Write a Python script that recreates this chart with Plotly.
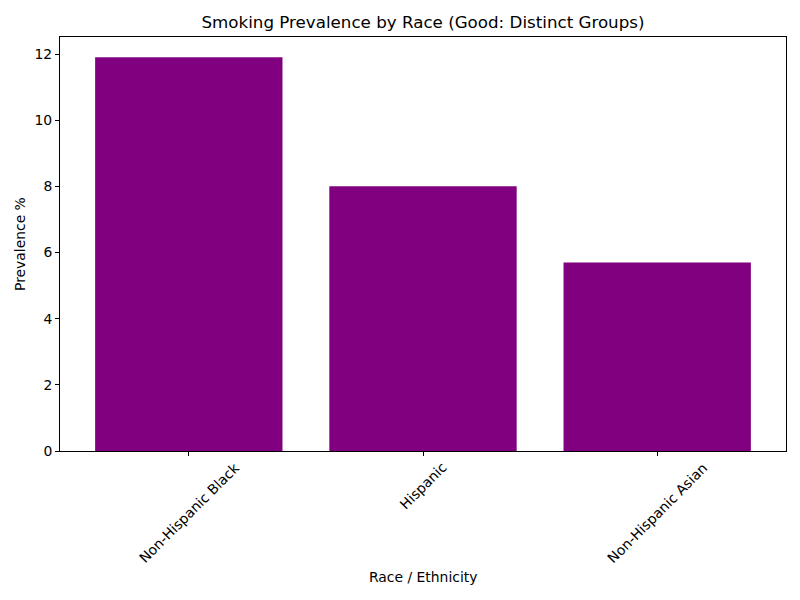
import plotly.graph_objects as go

# data
groups = ["Non-Hispanic Black", "Hispanic", "Non-Hispanic Asian"]
prevalence = [11.9, 8.0, 5.7]
positions = list(range(len(groups)))

fig = go.Figure()
fig.add_trace(
    go.Bar(
        x=positions,
        y=prevalence,
        width=0.8,
        marker=dict(color="purple", line=dict(width=0)),
    )
)

axis_style = dict(
    showline=True, linecolor="black", linewidth=1, mirror=True,
    ticks="outside", ticklen=4, tickcolor="black", showgrid=False,
    zeroline=False, tickfont=dict(size=13.9, color="black"),
)

# rotated category labels, centred under their ticks like matplotlib does
for p, g in zip(positions, groups):
    fig.add_annotation(x=p, xref="x", y=0, yref="paper", yshift=-6,
                       text=g, textangle=-45, showarrow=False,
                       xanchor="center", yanchor="top",
                       font=dict(size=13.9, color="black"))

fig.add_annotation(x=0.5, xref="paper", y=0, yref="paper", yshift=-126,
                   text="Race / Ethnicity", showarrow=False,
                   xanchor="center", yanchor="middle",
                   font=dict(size=13.9, color="black"))
fig.add_annotation(x=0, xref="paper", xshift=-40, y=0.5, yref="paper",
                   text="Prevalence %", textangle=-90, showarrow=False,
                   xanchor="center", yanchor="middle",
                   font=dict(size=13.9, color="black"))

fig.update_layout(
    width=784, height=584,
    plot_bgcolor="white", paper_bgcolor="white",
    font=dict(family="DejaVu Sans", color="black"),
    margin=dict(l=52, r=6, t=29, b=141),
    showlegend=False,
    title=dict(text="Smoking Prevalence by Race (Good: Distinct Groups)",
               x=0.5, xref="paper", xanchor="center",
               y=1 - 14 / 584, yanchor="middle", font=dict(size=16.7)),
    xaxis=dict(axis_style, range=[-0.55, 2.55], tickvals=positions,
               showticklabels=False),
    yaxis=dict(axis_style, range=[0, 12.515], dtick=2),
)

fig.write_html("out.html")
